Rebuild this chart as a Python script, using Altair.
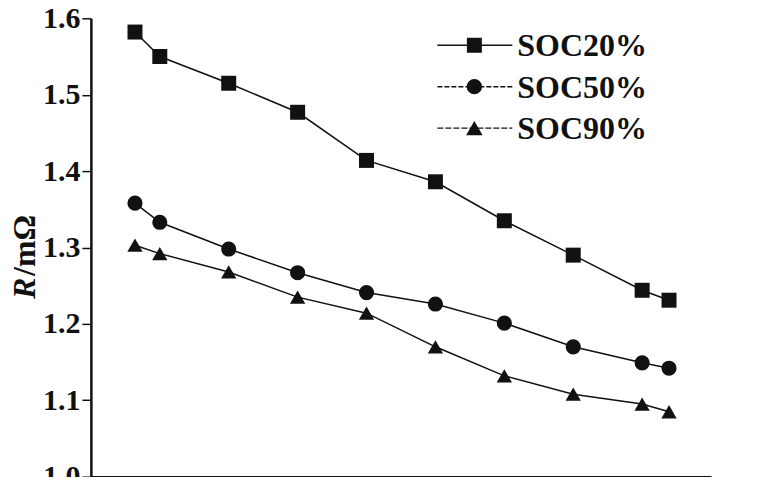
import altair as alt
import pandas as pd

series_names = ["SOC20%", "SOC50%", "SOC90%"]
x_vals = [0.64, 1, 2, 3, 4, 5, 6, 7, 8, 8.39]
soc20 = [1.582, 1.550, 1.515, 1.477, 1.414, 1.386, 1.335, 1.290, 1.244, 1.231]
soc50 = [1.358, 1.333, 1.298, 1.267, 1.241, 1.226, 1.201, 1.170, 1.149, 1.142]
soc90 = [1.303, 1.292, 1.268, 1.235, 1.214, 1.170, 1.132, 1.108, 1.095, 1.085]
y_ticks = [1.0, 1.05, 1.1, 1.15, 1.2, 1.25, 1.3, 1.35, 1.4, 1.45, 1.5, 1.55, 1.6]
x_ticks = [1, 2, 3, 4, 5, 6, 7, 8, 9]

shapes = ["square", "circle", "triangle-up"]
sizes = [225, 235, 270]
legend_dash = [[1, 0], [5, 2], [6, 2]]

rows = []
for name, vals in zip(series_names, [soc20, soc50, soc90]):
    for xv, yv in zip(x_vals, vals):
        rows.append({"series": name, "x": xv, "y": yv})
df = pd.DataFrame(rows)

INK = "#111111"
FONT = "Liberation Serif"

x_enc = alt.X("x:Q", scale=alt.Scale(domain=[0, 9], nice=False),
              axis=alt.Axis(values=x_ticks, labels=False, title=None, grid=False,
                            tickSize=6, tickColor=INK, tickWidth=1.5,
                            domainColor=INK, domainWidth=2.5))
y_enc = alt.Y("y:Q", scale=alt.Scale(domain=[1.0, 1.6], nice=False, zero=False),
              axis=alt.Axis(values=y_ticks, title=None, grid=False,
                            labelExpr="abs(datum.value*10 - round(datum.value*10)) < 0.001 ? format(datum.value, '.1f') : ''",
                            labelFont=FONT, labelFontWeight="bold", labelFontSize=30,
                            labelColor=INK, labelPadding=2,
                            tickSize={"condition": {"test": "abs(datum.value*10 - round(datum.value*10)) < 0.001", "value": 9}, "value": 4},
                            tickColor=INK, tickWidth=1.5,
                            domainColor=INK, domainWidth=2.5))

base = alt.Chart(df)
lines = base.mark_line(color=INK, strokeWidth=1.5).encode(
    x=x_enc, y=y_enc, detail="series:N")
points = base.mark_point(filled=True, opacity=1, color=INK).encode(
    x="x:Q", y="y:Q",
    shape=alt.Shape("series:N", scale=alt.Scale(domain=series_names, range=shapes), legend=None),
    size=alt.Size("series:N", scale=alt.Scale(domain=series_names, range=sizes), legend=None),
)

layers = [lines, points]

# manual legend
one = pd.DataFrame({"k": [0]})
for i, name in enumerate(series_names):
    ly = 27 + i * 41.5
    layers.append(alt.Chart(one).mark_rule(color=INK, strokeWidth=1.4, strokeDash=legend_dash[i]).encode(
        x=alt.value(347), x2=alt.value(422), y=alt.value(ly)))
    layers.append(alt.Chart(one).mark_point(filled=True, opacity=1, color=INK, shape=shapes[i], size=sizes[i]).encode(
        x=alt.value(384), y=alt.value(ly)))
    layers.append(alt.Chart(one).mark_text(align="left", baseline="middle", font=FONT, fontWeight="bold",
                                           fontSize=32, color=INK).encode(
        x=alt.value(427), y=alt.value(ly + 1), text=alt.value(name)))

# y title: italic R + /mΩ
layers.append(alt.Chart(one).mark_text(align="left", baseline="middle", angle=270, font=FONT,
                                       fontWeight="bold", fontStyle="italic", fontSize=32, color=INK).encode(
    x=alt.value(-66), y=alt.value(281), text=alt.value("R")))
layers.append(alt.Chart(one).mark_text(align="left", baseline="middle", angle=270, font=FONT,
                                       fontWeight="bold", fontSize=32, color=INK).encode(
    x=alt.value(-66), y=alt.value(258), text=alt.value("/mΩ")))

chart = alt.layer(*layers).properties(
    width=621, height=459,
    autosize=alt.AutoSizeParams(type="none"),
    padding={"left": 83, "top": 10, "right": 39, "bottom": 0},
    background="white",
).configure_view(stroke=None)

chart.save("out.html", embed_options={"renderer": "svg", "actions": False})
